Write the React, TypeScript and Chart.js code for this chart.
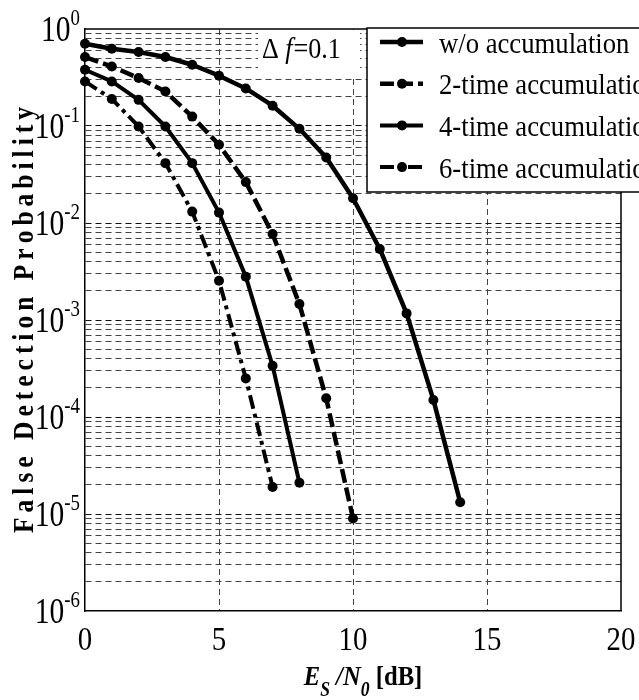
import React, { useEffect, useRef } from 'react';
import { Chart, registerables } from 'chart.js';

Chart.register(...registerables);

// ---------------- data ----------------
const snrDb = [0, 1, 2, 3, 4, 5, 6, 7, 8, 9, 10, 11, 12, 13, 14];
const seriesLabels = ['w/o accumulation', '2-time accumulation', '4-time accumulation', '6-time accumulation'];
const woAccumulation = [0.705, 0.626, 0.579, 0.514, 0.428, 0.33, 0.244, 0.162, 0.0935, 0.0473, 0.018, 0.0054, 0.00117, 1.5e-4, 1.32e-5];
const acc2Time = [0.514, 0.411, 0.312, 0.227, 0.125, 0.064, 0.0264, 0.0077, 0.00146, 1.56e-4, 9.0e-6];
const acc4Time = [0.38, 0.288, 0.186, 0.0989, 0.0414, 0.0128, 0.0028, 3.37e-4, 2.1e-5];
const acc6Time = [0.288, 0.19, 0.099, 0.0414, 0.0131, 0.00254, 2.5e-4, 1.9e-5];
const xTicks = [0, 5, 10, 15, 20];
const yDecades = [0, -1, -2, -3, -4, -5, -6];
const minorMultipliers = [2, 3, 4, 5, 6, 7, 8, 9];
const yTitle = 'False Detection Probability';
const annotationParts = ['\u0394 ', 'f', '=0.1'];

const FONT = "'Liberation Serif', 'Times New Roman', serif";

const seriesValues = [woAccumulation, acc2Time, acc4Time, acc6Time];
const seriesDash: number[][] = [[], [14, 5], [], [14, 5, 4, 5]];
const seriesWidth = [4.5, 4.5, 4, 4];

const yTickValues: number[] = [];
yDecades.forEach((d) => {
  yTickValues.push(Math.pow(10, d));
  if (d > -6) minorMultipliers.forEach((m) => yTickValues.push(m * Math.pow(10, d - 1)));
});
yTickValues.sort((a, b) => a - b);

const isDecade = (v: number) => Math.abs(Math.log10(v) - Math.round(Math.log10(v))) < 1e-9;

// draw text squeezed horizontally by sx, returns drawn width
function drawText(ctx: CanvasRenderingContext2D, text: string, x: number, y: number, font: string, sx: number, align: 'left' | 'center' | 'right' = 'left') {
  ctx.font = font;
  const w = ctx.measureText(text).width * sx;
  let x0 = x;
  if (align === 'center') x0 = x - w / 2;
  if (align === 'right') x0 = x - w;
  ctx.save();
  ctx.translate(x0, y);
  ctx.scale(sx, 1);
  ctx.textAlign = 'left';
  ctx.textBaseline = 'alphabetic';
  ctx.fillText(text, 0, 0);
  ctx.restore();
  return w;
}
function textWidth(ctx: CanvasRenderingContext2D, text: string, font: string, sx: number) {
  ctx.font = font;
  return ctx.measureText(text).width * sx;
}

const decorPlugin = {
  id: 'decor',
  beforeDatasetsDraw(chart: any) {
    const { ctx, chartArea: ca } = chart;
    ctx.save();
    // white box behind the annotation
    ctx.fillStyle = '#fff';
    ctx.fillRect(258, ca.top + 1, 102, 45);
    // top and right frame
    ctx.strokeStyle = '#000';
    ctx.lineWidth = 1.5;
    ctx.beginPath();
    ctx.moveTo(ca.left, ca.top);
    ctx.lineTo(ca.right, ca.top);
    ctx.lineTo(ca.right, ca.bottom);
    ctx.stroke();
    // annotation text
    ctx.fillStyle = '#000';
    let x = 262;
    annotationParts.forEach((p, i) => {
      const f = (i === 1 ? 'italic ' : '') + '29px ' + FONT;
      x += drawText(ctx, p, x, 58, f, 0.9) + (i === 1 ? 1 : 0);
    });
    ctx.restore();
  },
  afterDraw(chart: any) {
    const { ctx, chartArea: ca, scales } = chart;
    const xs = scales.x;
    const ys = scales.y;
    ctx.save();
    ctx.fillStyle = '#000';

    // y tick labels 10^n
    const baseFont = '36px ' + FONT;
    const expFont = '23px ' + FONT;
    const sq = 0.82;
    yDecades.forEach((d) => {
      const y = ys.getPixelForValue(Math.pow(10, d));
      const exp = String(d);
      const ew = textWidth(ctx, exp, expFont, sq);
      const bw = textWidth(ctx, '10', baseFont, sq);
      const bx = 80 - ew - bw;
      drawText(ctx, '10', bx, y + 12, baseFont, sq);
      drawText(ctx, exp, bx + bw, y - 4, expFont, sq);
    });

    // x tick labels
    xTicks.forEach((v) => {
      drawText(ctx, String(v), xs.getPixelForValue(v), 650, '34px ' + FONT, 0.85, 'center');
    });

    // x title: E_S /N_0 [dB]
    const segs = [
      { t: 'E', f: 'italic bold 28px ', dy: 0 },
      { t: 'S', f: 'italic bold 20px ', dy: 11 },
      { t: ' /', f: 'italic bold 28px ', dy: 0 },
      { t: 'N', f: 'italic bold 28px ', dy: 0 },
      { t: '0', f: 'italic bold 20px ', dy: 11 },
      { t: ' [dB]', f: 'bold 28px ', dy: 0 },
    ];
    const tsx = 0.88;
    let total = 0;
    segs.forEach((s) => (total += textWidth(ctx, s.t, s.f + FONT, tsx)));
    let tx = (ca.left + ca.right) / 2 + 10 - total / 2;
    segs.forEach((s) => {
      tx += drawText(ctx, s.t, tx, 685 + s.dy, s.f + FONT, tsx);
    });

    // y title, letter-spaced, rotated
    ctx.save();
    ctx.translate(33, (ca.top + ca.bottom) / 2);
    ctx.rotate(-Math.PI / 2);
    const yf = 'bold 30px ' + FONT;
    const ysx = 0.85;
    const spacing = 5;
    const chars = Array.from(yTitle);
    let tw = 0;
    chars.forEach((c) => (tw += textWidth(ctx, c, yf, ysx)));
    tw += spacing * (chars.length - 1);
    let cx = -tw / 2;
    chars.forEach((c) => {
      cx += drawText(ctx, c, cx, 0, yf, ysx) + spacing;
    });
    ctx.restore();

    // legend
    const lx = 367;
    const ly = 28;
    ctx.fillStyle = '#fff';
    ctx.fillRect(lx, ly, chart.width - lx + 20, 164);
    ctx.strokeStyle = '#000';
    ctx.lineWidth = 1.5;
    ctx.strokeRect(lx, ly, chart.width - lx + 20, 164);
    chart.data.datasets.forEach((ds: any, i: number) => {
      const ry = 42 + i * 41.7;
      ctx.save();
      ctx.strokeStyle = '#000';
      ctx.lineWidth = ds.borderWidth;
      ctx.setLineDash(ds.borderDash || []);
      ctx.beginPath();
      ctx.moveTo(380, ry);
      ctx.lineTo(423, ry);
      ctx.stroke();
      ctx.setLineDash([]);
      ctx.fillStyle = '#000';
      ctx.beginPath();
      ctx.arc(402, ry, 5, 0, Math.PI * 2);
      ctx.fill();
      drawText(ctx, ds.label, 439, ry + 10.5, '29px ' + FONT, 0.92);
      ctx.restore();
    });
    ctx.restore();
  },
};

export default function App() {
  const ref = useRef<HTMLCanvasElement>(null);
  useEffect(() => {
    document.body.style.margin = '0';
    const datasets = seriesLabels.map((label, i) => ({
      label,
      data: seriesValues[i].map((v, j) => ({ x: snrDb[j], y: v })),
      borderColor: '#000',
      backgroundColor: '#000',
      borderWidth: seriesWidth[i],
      borderDash: seriesDash[i],
      borderCapStyle: 'butt',
      borderJoinStyle: 'round',
      pointRadius: 5,
      pointBorderWidth: 0,
      pointBackgroundColor: '#000',
      pointBorderColor: '#000',
      tension: 0,
      clip: false,
    }));
    const chart = new Chart(ref.current as HTMLCanvasElement, {
      type: 'line',
      data: { datasets } as any,
      options: {
        responsive: false,
        animation: false,
        devicePixelRatio: 1,
        layout: { padding: { left: 85, top: 29, right: 18, bottom: 89 } },
        plugins: { legend: { display: false }, tooltip: { enabled: false } },
        scales: {
          x: {
            type: 'linear',
            min: 0,
            max: 20,
            afterFit: (s: any) => {
              s.height = 0;
            },
            afterBuildTicks: (s: any) => {
              s.ticks = xTicks.map((v) => ({ value: v }));
            },
            ticks: { display: false },
            grid: {
              drawTicks: false,
              lineWidth: 1,
              color: (c: any) =>
                c.tick && (c.tick.value === xTicks[0] || c.tick.value === xTicks[xTicks.length - 1])
                  ? 'rgba(0,0,0,0)'
                  : '#444',
            },
            border: { display: true, color: '#000', width: 1.5, dash: [6, 4] },
          },
          y: {
            type: 'logarithmic',
            min: 1e-6,
            max: 1,
            afterFit: (s: any) => {
              s.width = 0;
            },
            afterBuildTicks: (s: any) => {
              s.ticks = yTickValues.map((v) => ({ value: v, major: isDecade(v) }));
            },
            ticks: { display: false },
            grid: {
              drawTicks: false,
              lineWidth: 1,
              color: (c: any) => {
                const v = c.tick ? c.tick.value : 0;
                if (v >= 1 || v <= 1e-6) return 'rgba(0,0,0,0)';
                return isDecade(v) ? '#111' : '#444';
              },
            },
            border: { display: true, color: '#000', width: 1.5, dash: [6, 4] },
          },
        },
      } as any,
      plugins: [decorPlugin],
    });
    return () => chart.destroy();
  }, []);
  return (
    <div style={{ width: 639, height: 700 }}>
      <canvas ref={ref} width={639} height={700} style={{ display: 'block', width: 639, height: 700 }} />
    </div>
  );
}
